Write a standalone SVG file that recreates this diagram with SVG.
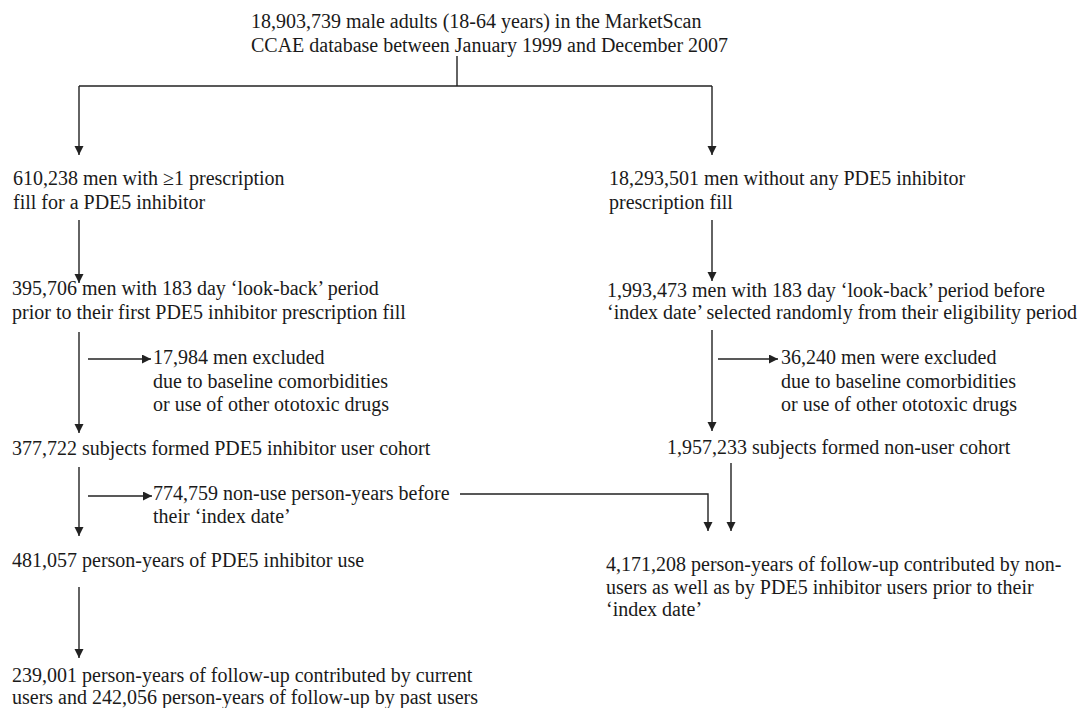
<svg xmlns="http://www.w3.org/2000/svg" width="1078" height="708" viewBox="0 0 1078 708">
<style>
text{font-family:"Liberation Serif","Times New Roman",serif;font-size:20px;fill:#1a1a1a}
.c{fill:none;stroke:#222;stroke-width:1.4}
</style>
<defs>
<marker id="ah" markerUnits="userSpaceOnUse" markerWidth="10" markerHeight="10" refX="9" refY="4.5" orient="auto">
<path d="M0,0 L9,4.5 L0,9 z" fill="#222"/>
</marker>
</defs>
<rect width="1078" height="708" fill="#fff"/>
<g id="connectors">
<path class="c" d="M457,56 V86"/>
<path class="c" d="M79,86 H712"/>
<path class="c" d="M79,86 V155" marker-end="url(#ah)"/>
<path class="c" d="M712,86 V155" marker-end="url(#ah)"/>
<path class="c" d="M79,220 V283" marker-end="url(#ah)"/>
<path class="c" d="M712,220 V281" marker-end="url(#ah)"/>
<path class="c" d="M79,332 V433" marker-end="url(#ah)"/>
<path class="c" d="M712,330 V431" marker-end="url(#ah)"/>
<path class="c" d="M88,359 H151" marker-end="url(#ah)"/>
<path class="c" d="M718,359 H778" marker-end="url(#ah)"/>
<path class="c" d="M79,467 V536" marker-end="url(#ah)"/>
<path class="c" d="M88,496 H152" marker-end="url(#ah)"/>
<path class="c" d="M460,494 H708 V531" marker-end="url(#ah)"/>
<path class="c" d="M731,463 V531" marker-end="url(#ah)"/>
<path class="c" d="M79,587 V658" marker-end="url(#ah)"/>
</g>
<g id="n1"><text x="251" y="28">18,903,739 male adults (18-64 years) in the MarketScan</text><text x="251" y="52">CCAE database between January 1999 and December 2007</text></g>
<g id="n2"><text x="13" y="185">610,238 men with ≥1 prescription</text><text x="13" y="209">fill for a PDE5 inhibitor</text></g>
<g id="n3"><text x="609" y="185">18,293,501 men without any PDE5 inhibitor</text><text x="609" y="209">prescription fill</text></g>
<g id="n4"><text x="12" y="295">395,706 men with 183 day ‘look-back’ period</text><text x="12" y="319">prior to their first PDE5 inhibitor prescription fill</text></g>
<g id="n5"><text x="607" y="297">1,993,473 men with 183 day ‘look-back’ period before</text><text x="607" y="319">‘index date’ selected randomly from their eligibility period</text></g>
<g id="n6"><text x="153" y="364">17,984 men excluded</text><text x="153" y="388">due to baseline comorbidities</text><text x="153" y="411">or use of other ototoxic drugs</text></g>
<g id="n7"><text x="781" y="364">36,240 men were excluded</text><text x="781" y="388">due to baseline comorbidities</text><text x="781" y="411">or use of other ototoxic drugs</text></g>
<g id="n8"><text x="12" y="455">377,722 subjects formed PDE5 inhibitor user cohort</text></g>
<g id="n9"><text x="667" y="454">1,957,233 subjects formed non-user cohort</text></g>
<g id="n10"><text x="153" y="500">774,759 non-use person-years before</text><text x="153" y="523">their ‘index date’</text></g>
<g id="n11"><text x="12" y="567">481,057 person-years of PDE5 inhibitor use</text></g>
<g id="n12"><text x="606" y="571">4,171,208 person-years of follow-up contributed by non-</text><text x="606" y="594">users as well as by PDE5 inhibitor users prior to their</text><text x="606" y="616">‘index date’</text></g>
<g id="n13"><text x="12" y="682">239,001 person-years of follow-up contributed by current</text><text x="12" y="704">users and 242,056 person-years of follow-up by past users</text></g>
</svg>
